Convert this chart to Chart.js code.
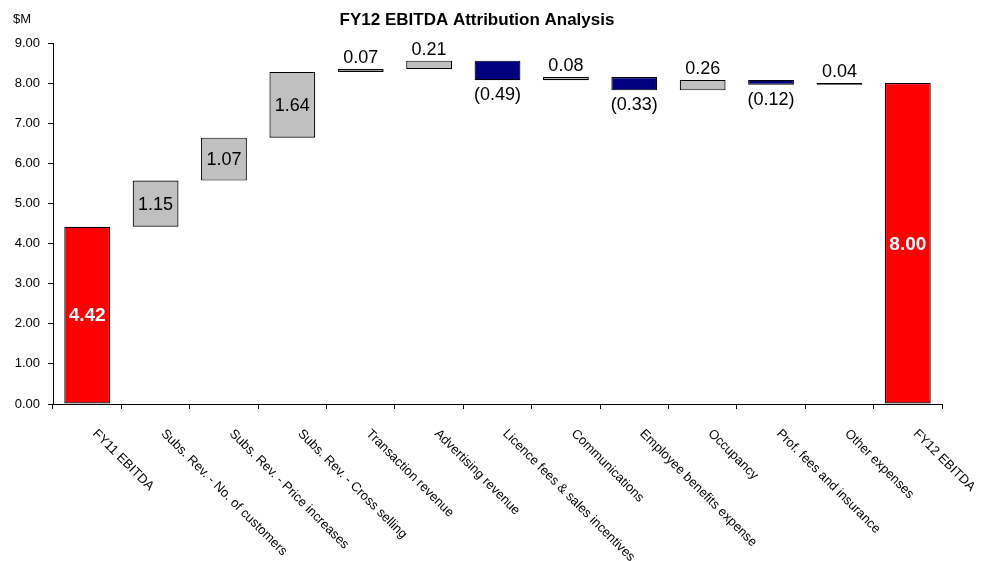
<!DOCTYPE html>
<html>
<head>
<meta charset="utf-8">
<script src="https://cdn.jsdelivr.net/npm/chart.js@4/dist/chart.umd.min.js"></script>
<style>
  html, body { margin: 0; padding: 0; background: #fff; }
  #wrap { width: 989px; height: 561px; position: relative; }
</style>
</head>
<body>
<div id="wrap"><canvas id="chart"></canvas></div>
<script>
// categories along the x axis
const categories = [
  "FY11 EBITDA",
  "Subs. Rev. - No. of customers",
  "Subs. Rev. - Price increases",
  "Subs. Rev. - Cross selling",
  "Transaction revenue",
  "Advertising revenue",
  "Licence fees & sales incentives",
  "Communications",
  "Employee benefits expense",
  "Occupancy",
  "Prof. fees and insurance",
  "Other expenses",
  "FY12 EBITDA"
];

// movement for each step ($M); first and last are the totals
const changes = [4.42, 1.15, 1.07, 1.64, 0.07, 0.21, -0.49, 0.08, -0.33, 0.26, -0.12, 0.04, 8.00];
const isTotal = [true, false, false, false, false, false, false, false, false, false, false, false, true];

const yTicks = [0, 1, 2, 3, 4, 5, 6, 7, 8, 9];

// build floating [low, high] ranges from the running total
const ranges = [];
let running = 0;
changes.forEach((v, i) => {
  if (isTotal[i]) {
    ranges.push([0, v]);
    running = v;
  } else {
    const next = running + v;
    ranges.push([Math.min(running, next), Math.max(running, next)]);
    running = next;
  }
});

const colors = changes.map((v, i) => isTotal[i] ? "#FF0000" : (v < 0 ? "#000080" : "#C0C0C0"));

const fmt = v => v < 0 ? "(" + Math.abs(v).toFixed(2) + ")" : v.toFixed(2);

const FONT = "'Liberation Sans', Arial, sans-serif";

const labelsPlugin = {
  id: "waterfallLabels",
  afterDatasetsDraw(chart) {
    const ctx = chart.ctx;
    const meta = chart.getDatasetMeta(0);
    ctx.save();
    meta.data.forEach((bar, i) => {
      const v = changes[i];
      const top = Math.min(bar.y, bar.base);
      const bottom = Math.max(bar.y, bar.base);
      ctx.textAlign = "center";
      ctx.fillStyle = "#000";
      ctx.font = "18px " + FONT;
      if (isTotal[i]) {
        ctx.font = "bold 19px " + FONT;
        ctx.fillStyle = "#fff";
        ctx.textBaseline = "middle";
        ctx.fillText(fmt(v), bar.x, (top + bottom) / 2 + 1);
      } else if (Math.abs(v) >= 1) {
        ctx.textBaseline = "middle";
        ctx.fillText(fmt(v), bar.x, (top + bottom) / 2 + 1);
      } else if (v >= 0) {
        ctx.textBaseline = "bottom";
        ctx.fillText(fmt(v), bar.x, top - 2);
      } else {
        ctx.textBaseline = "top";
        ctx.fillText(fmt(v), bar.x, bottom + 6);
      }
    });

    // slanted category labels running down to the right
    const xs = chart.scales.x;
    ctx.font = "13px " + FONT;
    ctx.fillStyle = "#000";
    ctx.textAlign = "left";
    ctx.textBaseline = "top";
    categories.forEach((c, i) => {
      const x = xs.getPixelForValue(i);
      ctx.save();
      ctx.translate(x + 12, xs.top + 23);
      ctx.rotate(Math.PI / 4);
      ctx.fillText(c, 0, 0);
      ctx.restore();
    });

    // title and unit
    ctx.textAlign = "center";
    ctx.textBaseline = "middle";
    ctx.font = "bold 17px " + FONT;
    ctx.fillText("FY12 EBITDA Attribution Analysis", 477, 20);
    ctx.textAlign = "left";
    ctx.font = "13px " + FONT;
    ctx.fillText("$M", 13, 19);
    ctx.restore();
  }
};

new Chart(document.getElementById("chart"), {
  type: "bar",
  data: {
    labels: categories,
    datasets: [{
      data: ranges,
      backgroundColor: colors,
      borderColor: "#000",
      borderWidth: 1.2,
      borderSkipped: false,
      barPercentage: 0.67,
      categoryPercentage: 1.0
    }]
  },
  options: {
    responsive: true,
    maintainAspectRatio: false,
    animation: false,
    layout: { padding: { top: 43, right: 47, bottom: 0, left: 0 } },
    plugins: {
      legend: { display: false },
      tooltip: { enabled: false },
      title: { display: false }
    },
    scales: {
      x: {
        grid: { offset: true, drawOnChartArea: false, tickLength: 5, color: "#000" },
        border: { color: "#000" },
        ticks: { display: false },
        afterFit: s => { s.height = 157; }
      },
      y: {
        min: 0,
        max: 9,
        afterBuildTicks: s => { s.ticks = yTicks.map(v => ({ value: v })); },
        grid: { drawOnChartArea: false, tickLength: 5, color: "#000" },
        border: { color: "#000" },
        ticks: {
          padding: 8,
          color: "#000",
          font: { family: FONT, size: 13 },
          callback: v => Number(v).toFixed(2)
        },
        afterFit: s => { s.width = 53; }
      }
    }
  },
  plugins: [labelsPlugin]
});
</script>
</body>
</html>
